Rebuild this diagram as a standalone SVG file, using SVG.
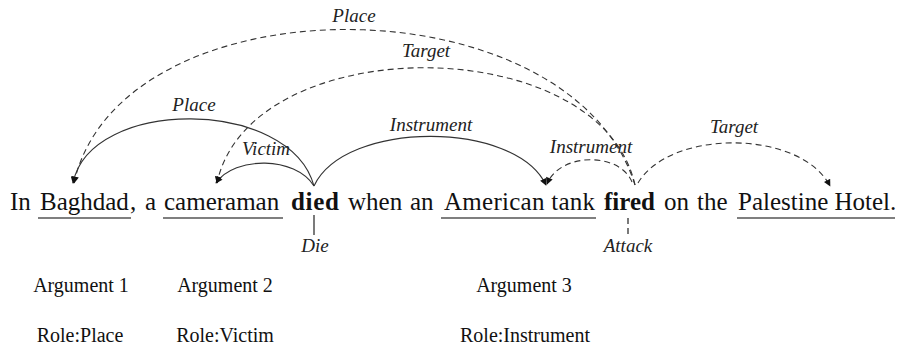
<svg xmlns="http://www.w3.org/2000/svg" width="902" height="345" viewBox="0 0 902 345">
<style>
.w{font-family:'Liberation Serif','DejaVu Serif',serif;font-size:25px;fill:#111}
.b{font-weight:bold}
.lab{font-family:'Liberation Serif','DejaVu Serif',serif;font-size:19px;font-style:italic;fill:#222;text-anchor:middle}
.bot{font-family:'Liberation Serif','DejaVu Serif',serif;font-size:20px;fill:#111;text-anchor:middle}
.arc{fill:none;stroke:#333;stroke-width:1.1}
.dash{stroke-dasharray:6 4}
.ul{stroke:#555;stroke-width:1.3}
</style>
<defs>
<marker id="arr" viewBox="0 0 10 10" refX="9" refY="5" markerWidth="8" markerHeight="7" markerUnits="userSpaceOnUse" orient="auto">
<path d="M0,0 L10,5 L0,10 z" fill="#111"/>
</marker>
</defs>
<rect width="902" height="345" fill="#fff"/>
<g id="connectors">
<path class="arc dash" d="M635,185 C570,-22 120,-22 74,183" marker-end="url(#arr)"/>
<path class="arc dash" d="M635,185 C600,29 250,29 217,183" marker-end="url(#arr)"/>
<path class="arc" d="M314,186 C290,97 90,97 73,183" marker-end="url(#arr)"/>
<path class="arc" d="M314,186 C295,156 235,156 216,183" marker-end="url(#arr)"/>
<path class="arc" d="M314,186 C345,120 515,120 546,185" marker-end="url(#arr)"/>
<path class="arc dash" d="M632,182 C620,152 560,152 547,184" marker-end="url(#arr)"/>
<path class="arc dash" d="M638,183 C670,129 800,129 830,186" marker-end="url(#arr)"/>
<line x1="314" y1="215" x2="314" y2="235" stroke="#222" stroke-width="1.2"/>
<line x1="628" y1="218" x2="628" y2="237" stroke="#222" stroke-width="1.2" stroke-dasharray="6 4"/>
</g>
<g id="edge-labels">
<text class="lab" x="354" y="22">Place</text>
<text class="lab" x="426" y="57">Target</text>
<text class="lab" x="194" y="111">Place</text>
<text class="lab" x="266" y="155">Victim</text>
<text class="lab" x="431" y="131">Instrument</text>
<text class="lab" x="591" y="153">Instrument</text>
<text class="lab" x="734" y="133">Target</text>
</g>
<g id="sentence">
<text class="w" x="10" y="210">In</text>
<text class="w" x="130" y="210">,</text>
<text class="w" x="145" y="210">a</text>
<text class="w" x="348" y="210">when</text>
<text class="w" x="410" y="210">an</text>
<text class="w" x="664" y="210">on</text>
<text class="w" x="697" y="210">the</text>
</g>
<g id="arg-baghdad">
<text class="w" x="40" y="210">Baghdad</text>
<line class="ul" x1="38" y1="218" x2="131" y2="218"/>
</g>
<g id="arg-cameraman">
<text class="w" x="164" y="210">cameraman</text>
<line class="ul" x1="163" y1="218" x2="283" y2="218"/>
</g>
<g id="trigger-died">
<text class="w b" x="291" y="210" textLength="48">died</text>
<text class="lab" x="315" y="252">Die</text>
</g>
<g id="arg-tank">
<text class="w" x="444" y="210" textLength="151">American tank</text>
<line class="ul" x1="441" y1="218" x2="596" y2="218"/>
</g>
<g id="trigger-fired">
<text class="w b" x="604" y="210">fired</text>
<text class="lab" x="628" y="252">Attack</text>
</g>
<g id="arg-hotel">
<text class="w" x="738" y="210">Palestine Hotel.</text>
<line class="ul" x1="737" y1="218" x2="895" y2="218"/>
</g>
<g id="legend">
<text class="bot" x="81" y="292">Argument 1</text>
<text class="bot" x="225" y="292">Argument 2</text>
<text class="bot" x="524" y="292">Argument 3</text>
<text class="bot" x="80" y="342">Role:Place</text>
<text class="bot" x="225" y="342">Role:Victim</text>
<text class="bot" x="525" y="342">Role:Instrument</text>
</g>
</svg>
